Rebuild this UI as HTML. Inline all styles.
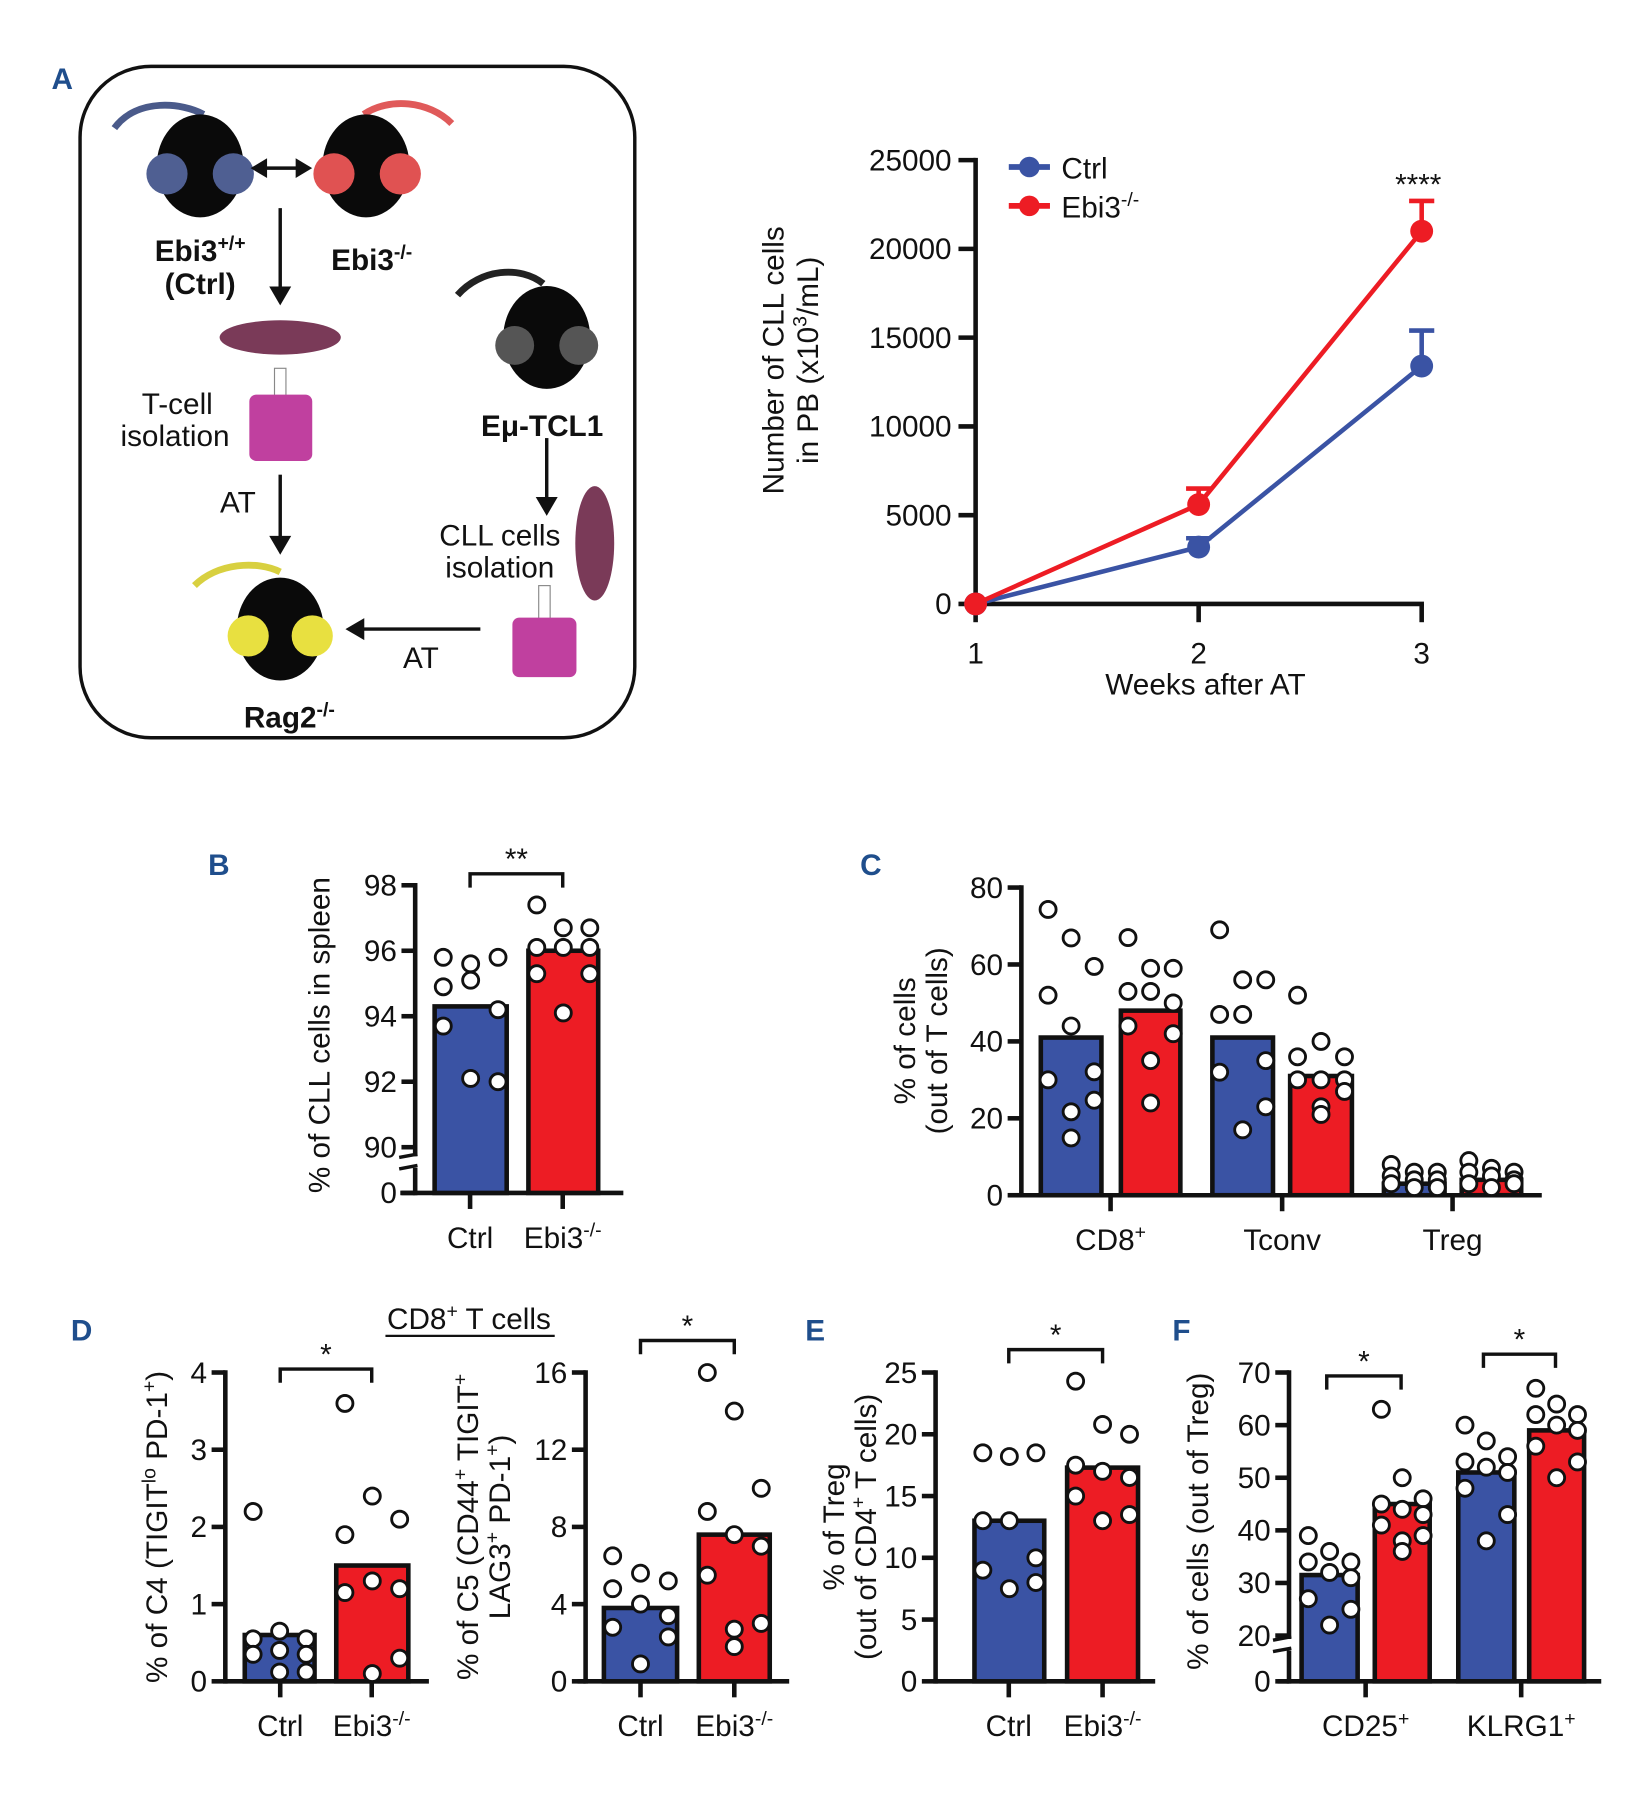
<!DOCTYPE html>
<html><head><meta charset="utf-8">
<style>
html,body{margin:0;padding:0;background:#fff;}
svg{display:block;font-family:"Liberation Sans",sans-serif;}
.t{font-size:26px;fill:#111;}
.lbl{font-size:26px;font-weight:bold;fill:#1f4e8c;}
.b{font-weight:bold;}
</style></head>
<body>
<svg id="fig" width="1647" height="1798" viewBox="0 0 1440 1572" xmlns="http://www.w3.org/2000/svg">
<g>
<text class="lbl" x="45" y="78">A</text>
<rect x="70" y="58" width="485" height="587" rx="62" fill="none" stroke="#111" stroke-width="3"/>
<g>
<path d="M100,112 C120,85 160,90 178,100" fill="none" stroke="#4a5a8a" stroke-width="6"/>
<ellipse cx="175" cy="145" rx="38" ry="45" fill="#0a0a0a"/>
<circle cx="146" cy="152" r="18" fill="#4f5f92"/><circle cx="204" cy="152" r="18" fill="#4f5f92"/>
</g>
<g>
<path d="M318,100 C340,85 375,88 395,108" fill="none" stroke="#e05a5a" stroke-width="6"/>
<ellipse cx="320" cy="145" rx="38" ry="45" fill="#0a0a0a"/>
<circle cx="292" cy="152" r="18" fill="#e05252"/><circle cx="350" cy="152" r="18" fill="#e05252"/>
</g>
<g>
<path d="M400,258 C420,235 455,232 475,248" fill="none" stroke="#222" stroke-width="6"/>
<ellipse cx="478" cy="295" rx="38" ry="45" fill="#0a0a0a"/>
<circle cx="450" cy="302" r="17" fill="#555"/><circle cx="506" cy="302" r="17" fill="#555"/>
</g>
<g>
<path d="M170,512 C190,492 225,490 245,500" fill="none" stroke="#d8d040" stroke-width="6"/>
<ellipse cx="245" cy="550" rx="38" ry="45" fill="#0a0a0a"/>
<circle cx="217" cy="556" r="18" fill="#e8e040"/><circle cx="273" cy="556" r="18" fill="#e8e040"/>
</g>
<ellipse cx="245" cy="295" rx="53" ry="15" fill="#7a3a58"/>
<ellipse cx="520" cy="475" rx="17" ry="50" fill="#7a3a58"/>
<g><rect x="240" y="322" width="10" height="26" fill="#fff" stroke="#888"/><rect x="218" y="345" width="55" height="58" rx="6" fill="#c0409f"/></g>
<g><rect x="471" y="512" width="10" height="30" fill="#fff" stroke="#888"/><rect x="448" y="540" width="56" height="52" rx="6" fill="#c0409f"/></g>
<g stroke="#111" stroke-width="3" fill="#111">
<line x1="230" y1="147" x2="262" y2="147"/><path d="M222,147 l10,-6 v12z M270,147 l-10,-6 v12z"/>
<line x1="245" y1="182" x2="245" y2="252"/><path d="M245,264 l-7,-12 h14z"/>
<line x1="245" y1="415" x2="245" y2="470"/><path d="M245,482 l-7,-12 h14z"/>
<line x1="478" y1="383" x2="478" y2="436"/><path d="M478,448 l-7,-12 h14z"/>
<line x1="420" y1="550" x2="318" y2="550"/><path d="M305,550 l12,-7 v14z"/>
</g>
<g class="t">
<text x="175" y="228" text-anchor="middle" class="b">Ebi3<tspan dy="-10" font-size="17">+/+</tspan></text>
<text x="175" y="257" text-anchor="middle" class="b">(Ctrl)</text>
<text x="325" y="236" text-anchor="middle" class="b">Ebi3<tspan dy="-10" font-size="17">-/-</tspan></text>
<text x="155" y="362" text-anchor="middle">T-cell</text>
<text x="153" y="390" text-anchor="middle">isolation</text>
<text x="208" y="448" text-anchor="middle">AT</text>
<text x="474" y="381" text-anchor="middle" class="b">Eμ-TCL1</text>
<text x="437" y="477" text-anchor="middle">CLL cells</text>
<text x="437" y="505" text-anchor="middle">isolation</text>
<text x="368" y="584" text-anchor="middle">AT</text>
<text x="253" y="636" text-anchor="middle" class="b">Rag2<tspan dy="-10" font-size="17">-/-</tspan></text>
</g>
</g>
<text class="t" x="410" y="1162" text-anchor="middle">CD8<tspan dy="-10" font-size="17">+</tspan><tspan dy="10"> T cells</tspan></text>
<line x1="337" y1="1168" x2="485" y2="1168" stroke="#111" stroke-width="2"/>
<g id="charts"></g>
</svg>
<script>
const NS="http://www.w3.org/2000/svg";
const root=document.getElementById('charts');
function mk(tag,attrs,parent){const e=document.createElementNS(NS,tag);for(const k in attrs)e.setAttribute(k,attrs[k]);(parent||root).appendChild(e);return e;}
const BLUE="#3a53a4",RED="#ed1c24";

const weeks=[1,2,3];
const ctrlMean=[0,3200,13400];
const ctrlErr=[0,500,2000];
const koMean=[0,5600,21000];
const koErr=[0,900,1700];
const lineYTicks=[0,5000,10000,15000,20000,25000];

const bCats=["Ctrl","Ebi3"];
const bMeans=[94.3,96.0];
const bCtrlPts=[95.8,95.6,95.8,94.9,95.1,94.2,93.7,92.0,92.1];
const bKoPts=[97.4,96.7,96.7,96.1,96.1,96.1,95.3,95.3,94.1];
const bTicks=[90,92,94,96,98];

const cGroups=["CD8","Tconv","Treg"];
const cCtrlMeans=[41,41,3];
const cKoMeans=[48,31,4];
const cCD8Ctrl=[74.3,66.9,59.5,52,44,32.1,30,24.7,21.7,14.9];
const cCD8Ko=[67,59,59,53,53,50,44,42,35,24];
const cTconvCtrl=[69,56,56,47,47,35,32,23,17];
const cTconvKo=[52,40,36,36,30,30,30,27,23,21];
const cTregCtrl=[8,6,6,5,4,4,3,2,2];
const cTregKo=[9,7,6,6,5,4,3,3,2];
const cTicks=[0,20,40,60,80];

const c4Means=[0.6,1.5];
const c4Ctrl=[2.2,0.65,0.55,0.55,0.4,0.35,0.35,0.12,0.12];
const c4Ko=[3.6,2.4,2.1,1.9,1.3,1.2,1.15,0.3,0.1];
const c4Ticks=[0,1,2,3,4];

const c5Means=[3.8,7.6];
const c5Ctrl=[6.5,5.6,5.2,4.8,4.0,3.4,2.8,2.3,0.9];
const c5Ko=[16,14,10,8.8,7.6,7.0,5.5,3.0,2.7,1.8];
const c5Ticks=[0,4,8,12,16];

const eMeans=[13,17.3];
const eCtrl=[18.5,18.2,18.5,13,13,10,9,8,7.5];
const eKo=[24.3,20.8,20,17.5,17,16.5,15,13.5,13];
const eTicks=[0,5,10,15,20,25];

const fGroups=["CD25","KLRG1"];
const fCtrlMeans=[31.5,51];
const fKoMeans=[45,59];
const fCD25Ctrl=[39,36,34,34,32,31,27,25,22];
const fCD25Ko=[63,50,46,45,44,43,41,39,38,36];
const fKLRG1Ctrl=[60,57,54,53,52,51,48,43,38];
const fKLRG1Ko=[67,64,62,62,60,59,56,53,50];
const fTicks=[0,20,30,40,50,60,70];

const jitter9=[-1,0,1,-1,0,1,-1,1,0,0];

(function(){
  const g=mk('g',{});
  
  
  const x=w=>853+(w-1)*195, y=v=>528-v*(388/25000);
  const ya=mk('line',{x1:853,y1:138,x2:853,y2:530,stroke:'#111','stroke-width':4},g);
  
  
  lineYTicks.forEach(v=>{
    mk('line',{x1:838,y1:y(v),x2:853,y2:y(v),stroke:'#111','stroke-width':4},g);
    const t=mk('text',{x:832,y:y(v)+9,'text-anchor':'end',class:'t'},g);t.textContent=v;
    
    
  });
  const xa=mk('line',{x1:851,y1:528,x2:1245,y2:528,stroke:'#111','stroke-width':4},g);
  
  
  weeks.forEach(w=>{
    mk('line',{x1:x(w),y1:528,x2:x(w),y2:544,stroke:'#111','stroke-width':4},g);
    const t=mk('text',{x:x(w),y:580,'text-anchor':'middle',class:'t'},g);t.textContent=w;
    
    
  });
  const xt=mk('text',{x:1054,y:607,'text-anchor':'middle',class:'t'},g);xt.textContent='Weeks after AT';
  
  
  const yt=mk('text',{transform:'translate(685,315) rotate(-90)','text-anchor':'middle',class:'t'},g);
  yt.innerHTML='<tspan x="0" y="0">Number of CLL cells</tspan><tspan x="0" y="30">in PB (x10<tspan dy="-10" font-size="17">3</tspan><tspan dy="10">/mL)</tspan></tspan>';
  
  
  [[ctrlMean,ctrlErr,BLUE,'ctrl'],[koMean,koErr,RED,'ebi3']].forEach(([m,e,c,n])=>{
    const pl=mk('polyline',{points:weeks.map((w,i)=>x(w)+','+y(m[i])).join(' '),fill:'none',stroke:c,'stroke-width':4},g);
    
    
    weeks.forEach((w,i)=>{
      if(e[i]>0){mk('line',{x1:x(w),y1:y(m[i]),x2:x(w),y2:y(m[i]+e[i]),stroke:c,'stroke-width':4},g);
        mk('line',{x1:x(w)-11,y1:y(m[i]+e[i]),x2:x(w)+11,y2:y(m[i]+e[i]),stroke:c,'stroke-width':4},g);}
      const p=mk('circle',{cx:x(w),cy:y(m[i]),r:10,fill:c},g);
      
      
    });
  });
  const s=mk('text',{x:1240,y:170,'text-anchor':'middle',class:'t','font-size':'24'},g);s.textContent='****';
  
  
  [[BLUE,'Ctrl',146],[RED,'Ebi3',180]].forEach(([c,l,yy])=>{
    const lg=mk('g',{},g);
    
    
    mk('line',{x1:882,y1:yy,x2:918,y2:yy,stroke:c,'stroke-width':5},lg);
    mk('circle',{cx:900,cy:yy,r:9,fill:c},lg);
    const t=mk('text',{x:928,y:yy+10,class:'t'},lg);
    t.innerHTML=l==='Ctrl'?'Ctrl':'Ebi3<tspan dy="-10" font-size="17">-/-</tspan>';
  });
})();

function barChart(o){
  const g=mk('g',{});
  
  
  const y=o.y;
  const ax=mk('line',{x1:o.ax,y1:o.yTopPx-2,x2:o.ax,y2:o.base+2,stroke:'#111','stroke-width':4},g);
  
  
  if(o.brk){mk('rect',{x:o.ax-8,y:o.brk-5,width:16,height:10,fill:'#fff'},g);
    mk('line',{x1:o.ax-14,y1:o.brk-4,x2:o.ax+2,y2:o.brk-7,stroke:'#111','stroke-width':3},g);
    mk('line',{x1:o.ax-14,y1:o.brk+6,x2:o.ax+2,y2:o.brk+3,stroke:'#111','stroke-width':3},g);}
  o.ticks.forEach(v=>{
    mk('line',{x1:o.ax-12,y1:y(v),x2:o.ax,y2:y(v),stroke:'#111','stroke-width':4},g);
    const t=mk('text',{x:o.ax-16,y:y(v)+9,'text-anchor':'end',class:'t'},g);t.textContent=v;
    
    
  });
  const xa=mk('line',{x1:o.ax-(o.ax0||0),y1:o.base,x2:o.xEnd,y2:o.base,stroke:'#111','stroke-width':4},g);
  
  
  o.bars.forEach((b,i)=>{
    const r=mk('rect',{x:b.x,y:y(b.v),width:b.w,height:o.base-y(b.v),fill:b.c,stroke:'#111','stroke-width':4},g);
    
    
    b.pts.forEach((v,j)=>{
      const c=mk('circle',{cx:b.x+b.w/2+jitter9[j%jitter9.length]*b.w*0.38,cy:y(v),r:7,fill:'#fff',stroke:'#111','stroke-width':2.5},g);
      
      
    });
  });
  o.xlabels.forEach(l=>{
    mk('line',{x1:l.x,y1:o.base,x2:l.x,y2:o.base+14,stroke:'#111','stroke-width':4},g);
    const t=mk('text',{x:l.x,y:o.base+48,'text-anchor':'middle',class:'t'},g);t.innerHTML=l.t;
    
    
  });
  (o.sig||[]).forEach(s=>{
    const p=mk('path',{d:`M${s.a},${s.y+12} V${s.y} H${s.b} V${s.y+12}`,fill:'none',stroke:'#111','stroke-width':3},g);
    
    
    const t=mk('text',{x:(s.a+s.b)/2,y:s.y-4,'text-anchor':'middle',class:'t','font-size':'22'},g);t.textContent=s.t;
    
    
  });
  const yt=mk('text',{transform:`translate(${o.titleX},${o.titleY}) rotate(-90)`,'text-anchor':'middle',class:'t'},g);
  yt.innerHTML=o.title;
  
  
  if(o.label){const t=mk('text',{x:o.label[1],y:o.label[2],class:'lbl'},g);t.textContent=o.label[0];
    
    }
  return g;
}
const KO='Ebi3<tspan dy="-10" font-size="17">-/-</tspan>';
const sup=(s,after)=>`<tspan dy="-10" font-size="17">${s}</tspan><tspan dy="10">${after||''}</tspan>`;

barChart({name:'chart-b-cll-spleen',ax:363,yTopPx:774,base:1043,xEnd:545,ax0:13,brk:1016,
  y:v=>v<=0?1043:1003-(v-90)*28.625,ticks:[0].concat(bTicks),
  bars:[{x:380,w:63,v:bMeans[0],c:BLUE,n:'b-ctrl',pts:bCtrlPts},{x:462,w:61,v:bMeans[1],c:RED,n:'b-ebi3',pts:bKoPts}],
  xlabels:[{x:411,t:bCats[0]},{x:492,t:KO}],sig:[{a:411,b:492,y:764,t:'**'}],
  title:'% of CLL cells in spleen',titleX:288,titleY:905,label:['B',182,765]});
barChart({name:'chart-c-t-cell-subsets',ax:893,yTopPx:776,base:1045,xEnd:1348,
  y:v=>1045-v*3.3625,ticks:cTicks,
  bars:[{x:910,w:53,v:cCtrlMeans[0],c:BLUE,n:'cd8-ctrl',pts:cCD8Ctrl},{x:980,w:52,v:cKoMeans[0],c:RED,n:'cd8-ebi3',pts:cCD8Ko},
        {x:1060,w:53,v:cCtrlMeans[1],c:BLUE,n:'tconv-ctrl',pts:cTconvCtrl},{x:1128,w:54,v:cKoMeans[1],c:RED,n:'tconv-ebi3',pts:cTconvKo},
        {x:1210,w:53,v:cCtrlMeans[2],c:BLUE,n:'treg-ctrl',pts:cTregCtrl},{x:1278,w:52,v:cKoMeans[2],c:RED,n:'treg-ebi3',pts:cTregKo}],
  xlabels:[{x:971,t:cGroups[0]+sup('+')},{x:1121,t:cGroups[1]},{x:1270,t:cGroups[2]}],
  title:'<tspan x="0" y="0">% of cells</tspan><tspan x="0" y="28">(out of T cells)</tspan>',titleX:800,titleY:910,label:['C',752,765]});
barChart({name:'chart-d-c4',ax:197,yTopPx:1200,base:1470,xEnd:375,
  y:v=>1470-v*67.5,ticks:c4Ticks,
  bars:[{x:214,w:61,v:c4Means[0],c:BLUE,n:'c4-ctrl',pts:c4Ctrl},{x:294,w:63,v:c4Means[1],c:RED,n:'c4-ebi3',pts:c4Ko}],
  xlabels:[{x:245,t:bCats[0]},{x:325,t:KO}],sig:[{a:245,b:325,y:1197,t:'*'}],
  title:'% of C4 (TIGIT'+sup('lo',' PD-1')+sup('+',')'),titleX:146,titleY:1335,label:['D',62,1172]});
barChart({name:'chart-d-c5',ax:512,yTopPx:1200,base:1470,xEnd:690,ax0:7,
  y:v=>1470-v*16.875,ticks:c5Ticks,
  bars:[{x:528,w:64,v:c5Means[0],c:BLUE,n:'c5-ctrl',pts:c5Ctrl},{x:611,w:62,v:c5Means[1],c:RED,n:'c5-ebi3',pts:c5Ko}],
  xlabels:[{x:560,t:bCats[0]},{x:642,t:KO}],sig:[{a:560,b:642,y:1172,t:'*'}],
  title:'<tspan x="0" y="0">% of C5 (CD44<tspan dy="-10" font-size="17">+</tspan><tspan dy="10"> TIGIT</tspan><tspan dy="-10" font-size="17">+</tspan></tspan><tspan x="0" y="28">LAG3<tspan dy="-10" font-size="17">+</tspan><tspan dy="10"> PD-1</tspan><tspan dy="-10" font-size="17">+</tspan><tspan dy="10">)</tspan></tspan>',titleX:418,titleY:1335});
barChart({name:'chart-e-treg',ax:818,yTopPx:1200,base:1470,xEnd:1010,
  y:v=>1470-v*10.8,ticks:eTicks,
  bars:[{x:852,w:61,v:eMeans[0],c:BLUE,n:'e-ctrl',pts:eCtrl},{x:933,w:62,v:eMeans[1],c:RED,n:'e-ebi3',pts:eKo}],
  xlabels:[{x:882,t:bCats[0]},{x:964,t:KO}],sig:[{a:882,b:964,y:1180,t:'*'}],
  title:'<tspan x="0" y="0">% of Treg</tspan><tspan x="0" y="28">(out of CD4<tspan dy="-10" font-size="17">+</tspan><tspan dy="10"> T cells)</tspan></tspan>',titleX:738,titleY:1335,label:['E',704,1172]});
barChart({name:'chart-f-treg-markers',ax:1127,yTopPx:1200,base:1470,xEnd:1400,ax0:10,brk:1438,
  y:v=>v<=0?1470:1430-(v-20)*4.6,ticks:fTicks,
  bars:[{x:1138,w:49,v:fCtrlMeans[0],c:BLUE,n:'cd25-ctrl',pts:fCD25Ctrl},{x:1202,w:48,v:fKoMeans[0],c:RED,n:'cd25-ebi3',pts:fCD25Ko},
        {x:1275,w:49,v:fCtrlMeans[1],c:BLUE,n:'klrg1-ctrl',pts:fKLRG1Ctrl},{x:1337,w:48,v:fKoMeans[1],c:RED,n:'klrg1-ebi3',pts:fKLRG1Ko}],
  xlabels:[{x:1194,t:fGroups[0]+sup('+')},{x:1330,t:fGroups[1]+sup('+')}],
  sig:[{a:1160,b:1225,y:1203,t:'*'},{a:1297,b:1360,y:1184,t:'*'}],
  title:'% of cells (out of Treg)',titleX:1056,titleY:1330,label:['F',1025,1172]});
</script>
</body></html>
